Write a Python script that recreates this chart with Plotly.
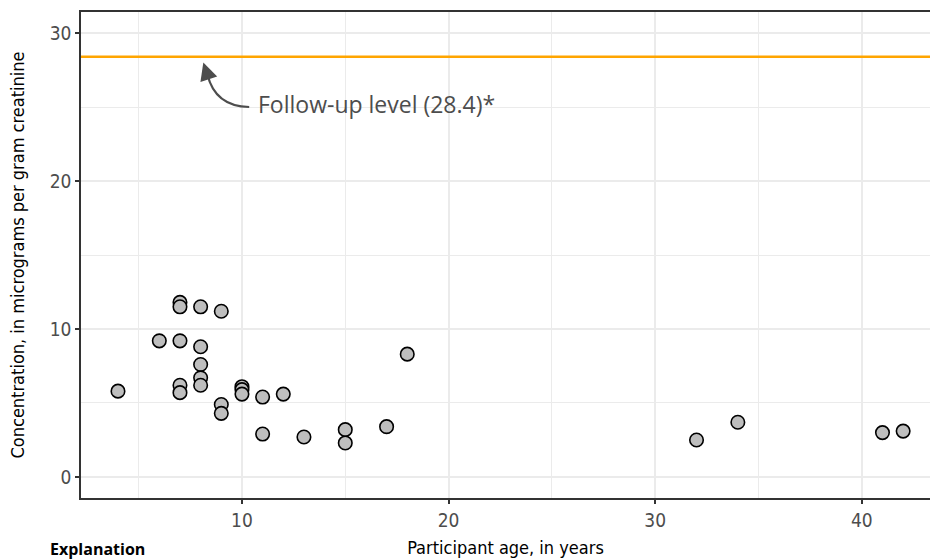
import plotly.graph_objects as go

# Participant ages (years) and urinary concentrations (µg per g creatinine)
ages = [4, 6, 7, 7, 7, 7, 7, 8, 8, 8, 8, 8, 9, 9, 9, 10, 10, 10, 11, 11, 12, 13, 15, 15, 17, 18, 32, 34, 41, 42]
conc = [5.8, 9.2, 11.8, 11.5, 9.2, 6.2, 5.7, 11.5, 8.8, 7.6, 6.7, 6.2, 11.2, 4.9, 4.3,
        6.1, 5.9, 5.6, 5.4, 2.9, 5.6, 2.7, 3.2, 2.3, 3.4, 8.3, 2.5, 3.7, 3.0, 3.1]

follow_up_level = 28.4
x_ticks = [10, 20, 30, 40]
y_ticks = [0, 10, 20, 30]

x_range = [2.21, 43.3]
y_range = [-1.42, 31.42]

NARROW = "Liberation Sans Narrow, DejaVu Sans Condensed, Arial Narrow, sans-serif"
GRAY_TXT = "#4D4D4D"

fig = go.Figure()

# follow-up reference line
fig.add_trace(go.Scatter(
    x=x_range, y=[follow_up_level, follow_up_level], mode="lines",
    line=dict(color="#FFA500", width=2.5), hoverinfo="skip", showlegend=False,
))

fig.add_trace(go.Scatter(
    x=ages, y=conc, mode="markers",
    marker=dict(size=13.5, color="#BEBEBE", line=dict(color="#000000", width=1.6)),
    showlegend=False,
))

# curved callout arrow from the label up to the line
fig.add_shape(
    type="path",
    path="M 10.35 25.0 Q 8.7 25.05 8.33 27.2",
    line=dict(color=GRAY_TXT, width=2.2),
    xref="x", yref="y",
)
fig.add_annotation(
    x=8.13, y=28.0, ax=8.33, ay=27.15, xref="x", yref="y", axref="x", ayref="y",
    text="", showarrow=True, arrowhead=2, arrowsize=1.6, arrowwidth=2.2,
    arrowcolor=GRAY_TXT,
)
fig.add_annotation(
    x=10.7, y=25.2, xref="x", yref="y", xanchor="left", yanchor="middle",
    text="Follow-up level (28.4)*", showarrow=False,
    font=dict(family="Open Sans, Noto Sans, sans-serif", size=23, color=GRAY_TXT),
)

# section heading below the chart
fig.add_annotation(
    x=0, y=0, xref="paper", yref="paper", xanchor="left", yanchor="top",
    xshift=-33, yshift=-38,
    text="<b>Explanation</b>", showarrow=False,
    font=dict(family="Open Sans, sans-serif", size=16, color="#000000"),
)

axis_common = dict(
    showgrid=True, gridcolor="#EBEBEB", gridwidth=1.8,
    zeroline=False, showline=True, linecolor="#333333", linewidth=1.5,
    ticks="outside", ticklen=4, tickwidth=1.5, tickcolor="#333333",
    tickfont=dict(family=NARROW, size=19, color=GRAY_TXT),
    minor=dict(showgrid=True, gridcolor="#EBEBEB", gridwidth=1.1, dtick=5, ticks=""),
)

fig.update_xaxes(
    range=x_range, tickvals=x_ticks, mirror=True,
    title=dict(text="Participant age, in years", font=dict(family=NARROW, size=18, color="#000000"), standoff=12),
    **axis_common,
)
fig.update_yaxes(
    range=y_range, tickvals=y_ticks, mirror=False,
    title=dict(text="Concentration, in micrograms per gram creatinine", font=dict(family=NARROW, size=18, color="#000000"), standoff=20),
    **axis_common,
)

fig.update_layout(
    width=930, height=559,
    margin=dict(l=81, r=0, t=12, b=61),
    plot_bgcolor="#FFFFFF", paper_bgcolor="#FFFFFF",
)

fig.write_html("out.html")
